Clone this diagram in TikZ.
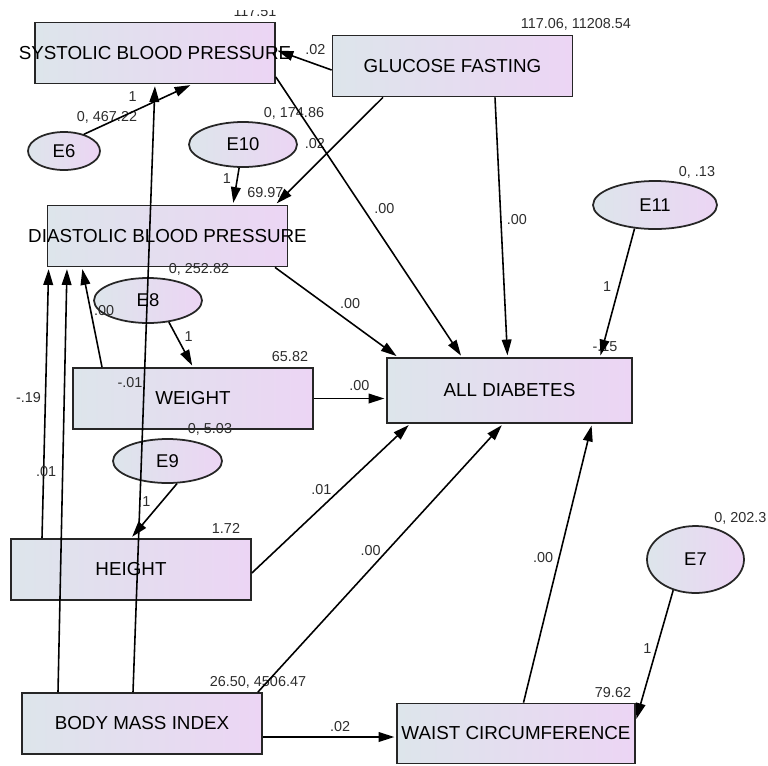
\documentclass[tikz,border=0pt]{standalone}
\usepackage{fontspec}
\setmainfont{Liberation Sans}
\usetikzlibrary{shapes,arrows.meta,calc}
\definecolor{boxleft}{RGB}{221,229,235}
\definecolor{boxright}{RGB}{236,213,244}
\definecolor{coefgray}{RGB}{45,45,45}
\newcommand{\varfont}{\fontsize{10.7}{12}\selectfont}
\newcommand{\coeffont}{\fontsize{8.2}{9}\selectfont}
\tikzstyle{every picture}=[x=0.02cm, y=-0.02cm, shorten >=1pt,%
	>={Triangle[length=9pt,width=5.5pt]}]
\tikzstyle{obs}=[rectangle, draw=black!85, line width=1pt, minimum width=4.8cm,%
	minimum height=1.22cm, inner sep=0pt, left color=boxleft, right color=boxright, font=\varfont]
\tikzstyle{err}=[ellipse, draw=black!85, line width=1pt, inner sep=0pt,%
	left color=boxleft, right color=boxright, font=\fontsize{10.5}{12}\selectfont]
\tikzstyle{coef}=[font=\coeffont, text=coefgray, inner sep=0pt]
\tikzstyle{reg}=[->, line width=0.9pt]

\begin{document}
\begin{tikzpicture}
\useasboundingbox (0,0) rectangle (768,765);
\node[obs] (sbp) at (155,53) {\makebox[0pt]{SYSTOLIC BLOOD PRESSURE}};
\node[obs] (glu) at (452.5,66) {GLUCOSE FASTING};
\node[obs] (dbp) at (167.5,236) {\makebox[0pt]{DIASTOLIC BLOOD PRESSURE}};
\node[obs] (wt) at (193,398.5) {WEIGHT};
\node[obs, minimum width=4.9cm, minimum height=1.3cm] (ad) at (509.5,390.5) {ALL DIABETES};
\node[obs] (ht) at (131,569.5) {HEIGHT};
\node[obs] (bmi) at (142,723.5) {BODY MASS INDEX};
\node[obs, minimum width=4.76cm, minimum height=1.2cm] (wc) at (516,733.5) {\makebox[0pt]{WAIST CIRCUMFERENCE}};

\node[err, minimum width=1.44cm, minimum height=0.76cm] (e6) at (64,151) {E6};
\node[err, minimum width=2.16cm, minimum height=0.9cm] (e10) at (243,144.5) {E10};
\node[err, minimum width=2.48cm, minimum height=0.96cm] (e11) at (655,205) {E11};
\node[err, minimum width=2.16cm, minimum height=0.9cm] (e8) at (148,300.5) {E8};
\node[err, minimum width=2.18cm, minimum height=0.88cm] (e9) at (167.5,461) {E9};
\node[err, minimum width=1.94cm, minimum height=1.34cm] (e7) at (695.5,559.5) {E7};

\begin{scope}
\clip (200,10) rectangle (320,30);
\node[coef, anchor=base] (m-sbp) at (255,16) {117.51};
\end{scope}
\node[coef] (m-glu) at (576,24) {117.06, 11208.54};
\node[coef] (v-e6) at (107,117) {0, 467.22};
\node[coef] (v-e10) at (294,113) {0, 174.86};
\node[coef, anchor=west] (m-dbp) at (247,193) {69.97};
\node[coef] (v-e11) at (697,172) {0, .13};
\node[coef] (v-e8) at (199,269) {0, 252.82};
\node[coef] (m-ad) at (605,347) {-.15};
\node[coef] (m-wt) at (290,357) {65.82};
\node[coef] (v-e9) at (210,429) {0, 5.03};
\node[coef] (m-ht) at (226,528) {1.72};
\node[coef, anchor=west] (v-e7) at (714,518) {0, 202.3};
\node[coef] (m-bmi) at (258,682) {26.50, 4506.47};
\node[coef] (m-wc) at (613,693) {79.62};

\path (e6.40) edge[reg] node[coef, pos=.45, shift={(0,-15)}] (c-e6) {1} ($(sbp.south)+(37,0)$);
\path ($(glu.west)+(0,4)$) edge[reg] node[coef, pos=.29, shift={(0,-15)}] (c-glu-sbp) {.02} ($(sbp.east)+(0,-3)$);
\path ($(bmi.north)+(-9,0)$) edge[reg] node[coef, pos=.5, shift={(-14,-6)}] (c-bmi-sbp) {-.01} (sbp.south);
\path (e10) edge[reg] node[coef, pos=.29, shift={(-10.5,0)}] (c-e10) {1} ($(dbp.north)+(65.5,0)$);
\path ($(glu.south)+(-69.5,0)$) edge[reg] node[coef, pos=.43, shift={(-22,0)}] (c-glu-dbp) {.02} ($(dbp.north)+(108,0)$);
\path ($(sbp.east)+(0,24)$) edge[reg] node[coef, pos=.47, shift={(21,0)}] (c-sbp-ad) {.00} ($(ad.north)+(-47.5,0)$);
\path ($(glu.south)+(42.5,0)$) edge[reg] node[coef, pos=.47, shift={(16,0)}] (c-glu-ad) {.00} ($(ad.north)+(-2,0)$);
\path (e11.-131) edge[reg] node[coef, pos=.45, shift={(-12,0)}] (c-e11) {1} ($(ad.north)+(90.5,0)$);
\path ($(dbp.south)+(107.5,0)$) edge[reg] node[coef, pos=.61, shift={(0,-19)}] (c-dbp-ad) {.00} ($(ad.north)+(-111.5,0)$);
\path (wt.east) edge[reg] node[coef, pos=.63, shift={(0,-13)}] (c-wt-ad) {.00} (wt.east -| ad.west);
\path (e8.-46) edge[reg] node[coef, pos=.32, shift={(12,0)}] (c-e8) {1} (wt.north);
\path ($(wt.north)+(-91,0)$) edge[reg] node[coef, pos=.57, shift={(13.5,0)}] (c-wt-dbp) {.00} ($(dbp.south)+(-85.5,0)$);
\path ($(ht.north)+(-89,0)$) edge[reg] node[coef, pos=.52, shift={(-17,0)}] (c-ht-dbp) {-.19} ($(dbp.south west)+(2,0)$);
\path ($(bmi.north)+(-84,0)$) edge[reg] node[coef, pos=.52, shift={(-16.5,0)}] (c-bmi-dbp) {.01} ($(dbp.south)+(-100.5,0)$);
\path (e9.-67) edge[reg] node[coef, pos=.33, shift={(-15.5,0)}] (c-e9) {1} (ht.north);
\path ($(ht.east)+(0,3.5)$) edge[reg] node[coef, pos=.44, shift={(0,-18)}] (c-ht-ad) {.01} ($(ad.south)+(-99.5,0)$);
\path ($(bmi.north east)+(-5,0)$) edge[reg] node[coef, pos=.46, shift={(0,-18)}] (c-bmi-ad) {.00} ($(ad.south)+(-6.5,0)$);
\path ($(wc.north)+(7.5,0)$) edge[reg] node[coef, pos=.52, shift={(-16,0)}] (c-wc-ad) {.00} ($(ad.south)+(82.5,0)$);
\path (e7.-126) edge[reg] node[coef, pos=.45, shift={(-9,0)}] (c-e7) {1} ($(wc.north east)+(0,18)$);
\coordinate (bmi-wc) at ($(bmi.east)+(0,13.5)$);
\path (bmi-wc) edge[reg] node[coef, pos=.58, shift={(0,-10)}] (c-bmi-wc) {.02} (bmi-wc -| wc.west);
\end{tikzpicture}
\end{document}
